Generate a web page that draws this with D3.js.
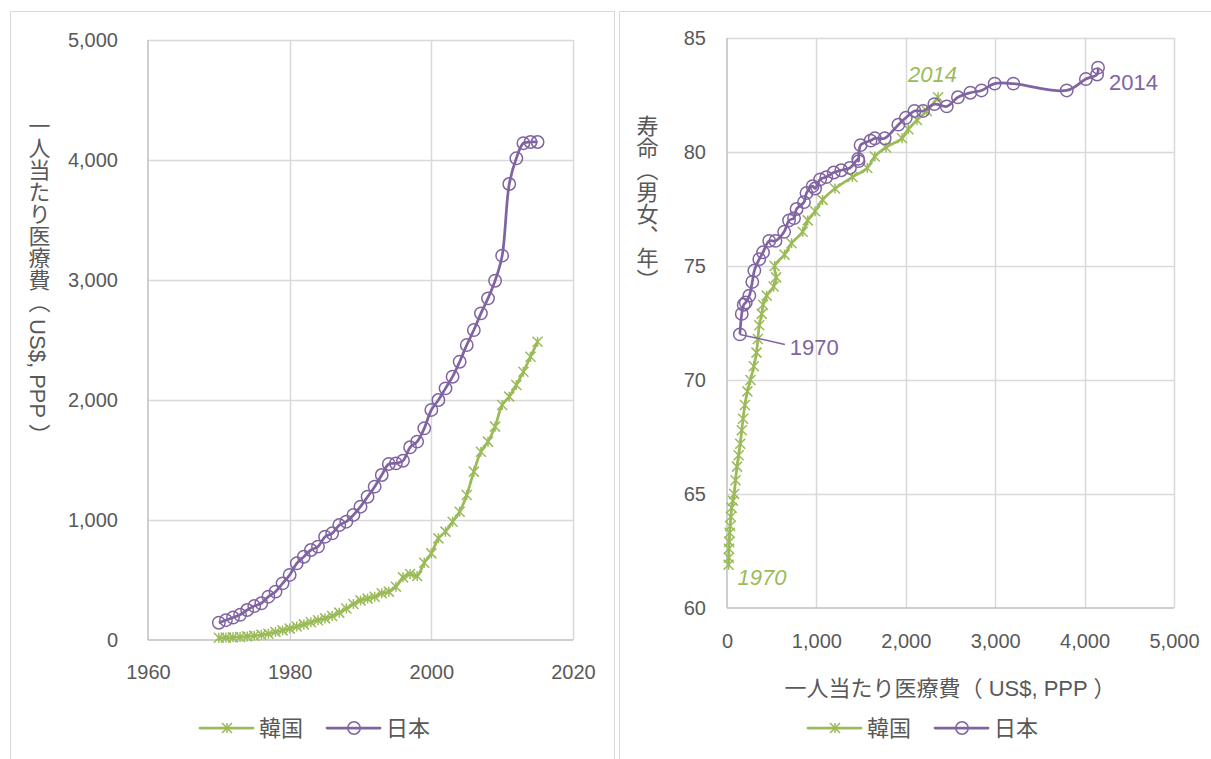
<!DOCTYPE html>
<html lang="ja">
<head>
<meta charset="utf-8">
<script src="https://cdn.jsdelivr.net/npm/d3@7"></script>
<style>
  html, body { margin: 0; padding: 0; background: #ffffff; }
  svg { display: block; }
  .num { font-family: "Liberation Sans", Arial, "Noto Sans CJK JP", sans-serif; fill: #595959; }
  .jp { font-family: "Liberation Sans", Arial, "Noto Sans CJK JP", sans-serif; fill: #595959; }
</style>
</head>
<body>
<script>
// Years covered by the spending series (1970–2015)
const years = [1970,1971,1972,1973,1974,1975,1976,1977,1978,1979,
               1980,1981,1982,1983,1984,1985,1986,1987,1988,1989,
               1990,1991,1992,1993,1994,1995,1996,1997,1998,1999,
               2000,2001,2002,2003,2004,2005,2006,2007,2008,2009,
               2010,2011,2012,2013,2014,2015];

// Health spending per capita (US$, PPP)
const koreaSpend = [18,20,22,25,30,35,43,52,66,80,
                    95,112,130,148,165,180,200,228,262,300,
                    330,345,361,389,403,444,522,550,533,644,
                    722,847,903,986,1069,1208,1403,1569,1653,1778,
                    1958,2028,2125,2236,2361,2486];
const japanSpend = [144,165,187,210,250,283,306,361,403,472,
                    542,639,694,750,778,861,889,958,986,1042,
                    1111,1194,1278,1375,1467,1472,1494,1606,1653,1764,
                    1917,2000,2097,2194,2319,2458,2583,2722,2847,2994,
                    3203,3800,4014,4140,4150,4150];

// Life expectancy at birth, both sexes (1970–2014)
const koreaLife = [61.9,62.2,62.6,62.9,63.3,63.6,64.0,64.4,64.7,65.0,
                   65.6,66.2,66.7,67.2,67.8,68.3,68.9,69.5,70.0,70.6,
                   71.2,71.8,72.4,72.9,73.3,73.7,74.1,74.5,75.0,75.5,
                   76.0,76.5,77.0,77.4,77.9,78.4,78.9,79.3,79.8,80.2,
                   80.6,81.0,81.4,81.8,82.4];
const japanLife = [72.0,72.9,73.3,73.4,73.7,74.3,74.8,75.3,75.6,76.1,
                   76.1,76.5,77.0,77.1,77.5,77.8,78.2,78.5,78.4,78.8,
                   78.9,79.1,79.2,79.3,79.7,79.6,80.3,80.5,80.6,80.6,
                   81.2,81.5,81.8,81.8,82.1,82.0,82.4,82.6,82.7,83.0,
                   83.0,82.7,83.2,83.4,83.7];

// Axis ticks
const yearTicks = [1960,1980,2000,2020];
const spendTicks = [0,1000,2000,3000,4000,5000];
const lifeTicks = [60,65,70,75,80,85];

const seriesNames = ["韓国","日本"];
const spendTitle = "一人当たり医療費（ US$, PPP ）";
const lifeTitle = "寿命（男女、年）";

const GREEN = "#9BBB59", PURPLE = "#8064A2";
const GRID = "#d9d9d9", AXIS = "#bfbfbf";
const fmt = d3.format(",");

const svg = d3.select("body").append("svg")
  .attr("width", 1211).attr("height", 759);

svg.append("rect").attr("width", 1211).attr("height", 759).attr("fill", "#fff");

// Panel frames
svg.append("rect").attr("x", 10.5).attr("y", 11.5).attr("width", 604).attr("height", 800)
  .attr("fill", "none").attr("stroke", GRID);
svg.append("rect").attr("x", 619.5).attr("y", 11.5).attr("width", 620).attr("height", 800)
  .attr("fill", "none").attr("stroke", GRID);

const smooth = d3.curveCatmullRom.alpha(0.5);

function starPath(s) {
  return `M${-s},${-s}L${s},${s}M${-s},${s}L${s},${-s}M0,${-s}L0,${s}`;
}

function drawFrame(g, x, y, xt, yt) {
  const [x0, x1] = x.range(), [y0, y1] = y.range();
  g.append("g").selectAll("line").data(xt.slice(1)).join("line")
    .attr("x1", d => Math.round(x(d)) + 0.5).attr("x2", d => Math.round(x(d)) + 0.5)
    .attr("y1", y0).attr("y2", y1).attr("stroke", GRID).attr("stroke-width", 1.5);
  g.append("g").selectAll("line").data(yt.slice(1)).join("line")
    .attr("y1", d => Math.round(y(d)) + 0.5).attr("y2", d => Math.round(y(d)) + 0.5)
    .attr("x1", x0).attr("x2", x1).attr("stroke", GRID).attr("stroke-width", 1.5);
  g.append("line").attr("x1", x0).attr("x2", x0).attr("y1", y0).attr("y2", y1)
    .attr("stroke", AXIS).attr("stroke-width", 1.5);
  g.append("line").attr("x1", x0).attr("x2", x1).attr("y1", y0).attr("y2", y0)
    .attr("stroke", AXIS).attr("stroke-width", 1.5);
}

function drawSeries(g, pts, color, marker) {
  const line = d3.line().x(d => d[0]).y(d => d[1]).curve(smooth);
  g.append("path").attr("d", line(pts)).attr("fill", "none")
    .attr("stroke", color).attr("stroke-width", 2.75).attr("stroke-linejoin", "round");
  if (marker === "star") {
    g.append("g").selectAll("path").data(pts).join("path")
      .attr("transform", d => `translate(${d[0]},${d[1]})`)
      .attr("d", starPath(5)).attr("stroke", color).attr("stroke-width", 1.5).attr("fill", "none");
  } else {
    g.append("g").selectAll("circle").data(pts).join("circle")
      .attr("cx", d => d[0]).attr("cy", d => d[1]).attr("r", 6.2)
      .attr("fill", "none").attr("stroke", color).attr("stroke-width", 1.5);
  }
}

function drawLegend(g, x, y) {
  const items = [
    { name: seriesNames[0], color: GREEN, marker: "star", x: x },
    { name: seriesNames[1], color: PURPLE, marker: "circle", x: x + 127 }
  ];
  items.forEach(it => {
    g.append("line").attr("x1", it.x).attr("x2", it.x + 53).attr("y1", y).attr("y2", y)
      .attr("stroke", it.color).attr("stroke-width", 2.75).attr("stroke-linecap", "round");
    if (it.marker === "star") {
      g.append("path").attr("transform", `translate(${it.x + 27},${y})`).attr("d", starPath(5))
        .attr("stroke", it.color).attr("stroke-width", 1.5).attr("fill", "none");
    } else {
      g.append("circle").attr("cx", it.x + 27).attr("cy", y).attr("r", 6.2)
        .attr("fill", "none").attr("stroke", it.color).attr("stroke-width", 1.5);
    }
    g.append("text").attr("class", "jp").attr("x", it.x + 59).attr("y", y + 8)
      .attr("font-size", 22).text(it.name);
  });
}

// ---- Left panel: spending per capita over time ----
const xL = d3.scaleLinear().domain([1960, 2020]).range([148, 573]);
const yL = d3.scaleLinear().domain([0, 5000]).range([640, 40]);
const gL = svg.append("g");
drawFrame(gL, xL, yL, yearTicks, spendTicks);

gL.append("g").attr("transform", "translate(0,640)")
  .call(d3.axisBottom(xL).tickValues(yearTicks).tickFormat(d3.format("d")).tickSize(0).tickPadding(25))
  .call(a => a.select(".domain").remove())
  .selectAll("text").attr("class", "num").attr("font-size", 20).attr("fill", "#595959");
gL.append("g").attr("transform", "translate(148,0)")
  .call(d3.axisLeft(yL).tickValues(spendTicks).tickFormat(fmt).tickSize(0).tickPadding(30))
  .call(a => a.select(".domain").remove())
  .selectAll("text").attr("class", "num").attr("font-size", 20).attr("fill", "#595959");

gL.append("text").attr("class", "jp").attr("x", 37).attr("y", 115)
  .attr("font-size", 22).style("writing-mode", "vertical-rl").text(spendTitle);

drawSeries(gL, years.map((yr, i) => [xL(yr), yL(koreaSpend[i])]), GREEN, "star");
drawSeries(gL, years.map((yr, i) => [xL(yr), yL(japanSpend[i])]), PURPLE, "circle");

drawLegend(gL, 200, 728);

// ---- Right panel: life expectancy vs spending ----
const xR = d3.scaleLinear().domain([0, 5000]).range([727, 1174]);
const yR = d3.scaleLinear().domain([60, 85]).range([608, 38]);
const gR = svg.append("g");
drawFrame(gR, xR, yR, spendTicks, lifeTicks);

gR.append("g").attr("transform", "translate(0,608)")
  .call(d3.axisBottom(xR).tickValues(spendTicks).tickFormat(fmt).tickSize(0).tickPadding(26))
  .call(a => a.select(".domain").remove())
  .selectAll("text").attr("class", "num").attr("font-size", 20).attr("fill", "#595959");
gR.append("g").attr("transform", "translate(727,0)")
  .call(d3.axisLeft(yR).tickValues(lifeTicks).tickSize(0).tickPadding(21))
  .call(a => a.select(".domain").remove())
  .selectAll("text").attr("class", "num").attr("font-size", 20).attr("fill", "#595959");

gR.append("text").attr("class", "jp").attr("x", 645).attr("y", 115)
  .attr("font-size", 22).style("writing-mode", "vertical-rl").text(lifeTitle);
gR.append("text").attr("class", "jp").attr("x", 950).attr("y", 696)
  .attr("text-anchor", "middle").attr("font-size", 22).text(spendTitle);

const nLife = koreaLife.length;
const korPts = koreaLife.map((v, i) => [xR(koreaSpend[i]), yR(v)]);
const jpnPts = japanLife.map((v, i) => [xR(japanSpend[i]), yR(v)]);
drawSeries(gR, korPts, GREEN, "star");
drawSeries(gR, jpnPts, PURPLE, "circle");

// Year annotations on the first and last points
const kFirst = korPts[0], kLast = korPts[nLife - 1];
const jFirst = jpnPts[0], jLast = jpnPts[nLife - 1];
gR.append("text").attr("class", "num").attr("x", kLast[0] - 30).attr("y", kLast[1] - 15)
  .attr("font-size", 22).attr("font-style", "italic").style("fill", GREEN)
  .text(years[nLife - 1]);
gR.append("text").attr("class", "num").attr("x", kFirst[0] + 9).attr("y", kFirst[1] + 20)
  .attr("font-size", 22).attr("font-style", "italic").style("fill", GREEN)
  .text(years[0]);
gR.append("text").attr("class", "num").attr("x", jLast[0] + 11).attr("y", jLast[1] + 22)
  .attr("font-size", 22).style("fill", PURPLE).text(years[nLife - 1]);
gR.append("line").attr("x1", jFirst[0]).attr("y1", jFirst[1])
  .attr("x2", jFirst[0] + 45).attr("y2", jFirst[1] + 10)
  .attr("stroke", PURPLE).attr("stroke-width", 1.5);
gR.append("text").attr("class", "num").attr("x", jFirst[0] + 50).attr("y", jFirst[1] + 21)
  .attr("font-size", 22).style("fill", PURPLE).text(years[0]);

drawLegend(gR, 808, 728);
</script>
</body>
</html>
